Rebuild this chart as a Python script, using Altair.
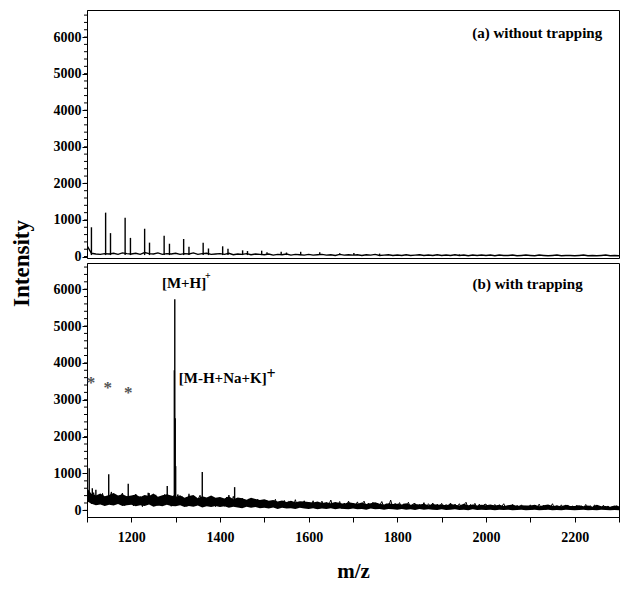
import altair as alt
import pandas as pd

FONT = "Liberation Serif"

# ---------------- (a) without trapping ----------------
MZ_A = list(range(1100, 2301, 10))
BASE_A = [
    300, 90, 70, 60, 80, 70, 90, 60, 100, 80,
    70, 90, 60, 110, 80, 70, 100, 60, 80, 70,
    90, 60, 80, 70, 100, 60, 80, 90, 60, 70,
    80, 60, 90, 50, 70, 60, 80, 50, 70, 60,
    50, 70, 40, 60, 50, 70, 40, 60, 50, 40,
    60, 40, 50, 60, 40, 50, 30, 60, 40, 50,
    40, 50, 30, 50, 40, 60, 30, 40, 50, 30,
    40, 30, 50, 30, 40, 50, 30, 40, 30, 50,
    30, 40, 30, 50, 30, 40, 20, 40, 30, 40,
    30, 40, 20, 40, 30, 30, 40, 20, 30, 40,
    30, 20, 40, 30, 20, 30, 40, 20, 30, 30,
    20, 30, 40, 20, 30, 20, 30, 40, 20, 30,
    20,
]
PEAK_A_MZ = [1110, 1142, 1153, 1186, 1198, 1230, 1241, 1274, 1286, 1318, 1330,
             1362, 1374, 1406, 1418, 1451, 1462, 1494, 1506, 1538, 1550, 1582,
             1625, 1670, 1702, 1760, 1850, 1940]
PEAK_A_INT = [800, 1200, 640, 1060, 510, 760, 380, 570, 350, 480, 270,
              380, 220, 280, 210, 170, 150, 160, 120, 130, 110, 130,
              120, 90, 100, 80, 70, 60]

# ---------------- (b) with trapping ----------------
MZ_B = list(range(1100, 2301, 10))
LOW_B = [
    250, 180, 140, 160, 120, 150, 130, 170, 120, 140,
    150, 110, 140, 120, 160, 100, 130, 110, 150, 120,
    110, 140, 90, 120, 100, 130, 80, 110, 90, 120,
    90, 110, 70, 100, 80, 60, 100, 70, 90, 60,
    70, 50, 80, 40, 70, 50, 60, 40, 70, 50,
    40, 60, 30, 50, 40, 60, 30, 50, 40, 30,
    50, 30, 40, 20, 50, 30, 40, 20, 40, 30,
    20, 40, 20, 30, 10, 40, 20, 30, 20, 10,
    30, 10, 20, 30, 10, 20, 0, 30, 10, 20,
    10, 20, 0, 20, 10, 20, 0, 10, 20, 0,
    10, 20, 0, 10, 20, 0, 10, 0, 20, 10,
    0, 10, 20, 0, 10, 0, 20, 10, 0, 10,
    0,
]
HIGH_B = [
    600, 450, 400, 460, 380, 420, 470, 400, 440, 380,
    400, 430, 360, 420, 390, 460, 370, 410, 440, 400,
    360, 410, 340, 390, 420, 330, 380, 350, 400, 340,
    360, 320, 380, 300, 350, 330, 290, 340, 310, 280,
    300, 260, 280, 240, 270, 230, 260, 220, 250, 240,
    230, 210, 240, 200, 220, 190, 230, 200, 180, 220,
    200, 180, 210, 170, 190, 220, 180, 160, 190, 170,
    180, 160, 190, 150, 170, 160, 180, 140, 170, 150,
    160, 140, 170, 150, 130, 180, 140, 160, 130, 150,
    140, 160, 130, 150, 120, 140, 160, 120, 140, 130,
    130, 150, 110, 140, 160, 120, 130, 110, 150, 120,
    120, 140, 110, 130, 100, 150, 110, 120, 100, 130,
    110,
]
MZ_N = list(range(1100, 2301, 5))
NOISE_B = [
    620, 420, 180, 480, 150, 390, 230, 460, 140, 330, 250, 500, 160, 400, 210, 350, 470, 130, 380, 260,
    330, 120, 440, 240, 380, 100, 350, 200, 470, 150, 310, 420, 130, 360, 180, 430, 220, 340, 110, 400,
    280, 430, 150, 370, 220, 110, 400, 190, 340, 130, 290, 410, 160, 320, 120, 360, 200, 300, 100, 330,
    200, 310, 110, 360, 240, 130, 380, 170, 290, 100, 330, 210, 140, 310, 90, 270, 180, 300, 110, 250,
    170, 280, 80, 250, 150, 300, 90, 230, 140, 270, 70, 240, 180, 100, 290, 80, 220, 130, 260, 70,
    220, 110, 260, 60, 200, 130, 250, 80, 210, 140, 280, 70, 190, 120, 240, 50, 200, 110, 250, 80,
    190, 110, 230, 60, 170, 250, 80, 200, 100, 220, 50, 190, 130, 240, 70, 180, 100, 280, 60, 190,
    110, 210, 50, 180, 100, 220, 60, 170, 190, 40, 160, 90, 210, 50, 180, 110, 200, 60, 170, 100,
    190, 50, 160, 90, 200, 40, 170, 100, 180, 60, 150, 220, 40, 160, 90, 190, 50, 170, 80, 150,
    170, 40, 140, 80, 160, 30, 150, 90, 180, 50, 130, 70, 160, 30, 140, 80, 150, 40, 120, 60,
    150, 30, 130, 70, 170, 40, 140, 20, 120, 80, 180, 30, 130, 60, 150, 40, 110, 140, 30, 120,
    70, 140, 30, 120, 60, 160, 20, 130, 50, 150, 30, 110, 60, 140, 20, 120, 50, 100, 30, 130,
    60,
]
PEAK_B_MZ = [1105, 1112, 1120, 1149, 1193, 1238, 1281, 1297, 1298, 1299, 1300,
             1330, 1360, 1420, 1433]
PEAK_B_INT = [1140, 600, 560, 980, 720, 480, 660, 3800, 5730, 2500, 1200,
              450, 1040, 420, 630]

Y_MAJOR = [0, 1000, 2000, 3000, 4000, 5000, 6000]
Y_MINOR = list(range(0, 6601, 200))
X_TICKS = list(range(1100, 2301, 100))

W = 532

df_a = pd.DataFrame({"mz": MZ_A, "intensity": BASE_A})
pk_a = pd.DataFrame({"mz": PEAK_A_MZ, "intensity": PEAK_A_INT})
df_b = pd.DataFrame({"mz": MZ_B, "low": LOW_B, "high": HIGH_B})
nz_b = pd.DataFrame({"mz": MZ_N, "intensity": NOISE_B})
pk_b = pd.DataFrame({"mz": PEAK_B_MZ, "intensity": PEAK_B_INT})
minor = pd.DataFrame({"v": Y_MINOR})

xscale = alt.Scale(domain=[1100, 2300], nice=False, zero=False)
yascale = alt.Scale(domain=[-40, 6740], nice=False, zero=False)
ybscale = alt.Scale(domain=[-180, 6710], nice=False, zero=False)

yaxis_top = alt.Axis(values=Y_MAJOR, format="d", tickSize=5, labelPadding=1,
                     grid=False, title="Intensity",
                     titleX=-66, titleY=253, titleAngle=270, titleAlign="center",
                     titleBaseline="middle", titleFontSize=23)
yaxis_bot = alt.Axis(values=Y_MAJOR, format="d", tickSize=5, labelPadding=1,
                     grid=False, title=None)
xaxis_bot = alt.Axis(values=X_TICKS,
                     labelExpr="datum.value % 200 === 0 && datum.value > 1100 && datum.value < 2300 ? datum.label : ''",
                     format="d", tickSize=5, labelPadding=8, labelOverlap=False, grid=False,
                     title="m/z", titleFontSize=21, titlePadding=16)


def minor_ticks(scale):
    return alt.Chart(minor).mark_rule(color="black", strokeWidth=1).encode(
        y=alt.Y("v:Q", scale=scale), x=alt.value(0), x2=alt.value(-3))


# top panel
line_a = alt.Chart(df_a).mark_line(color="black", strokeWidth=1.4, clip=True).encode(
    x=alt.X("mz:Q", scale=xscale, axis=None),
    y=alt.Y("intensity:Q", scale=yascale, axis=yaxis_top),
)
sticks_a = alt.Chart(pk_a).mark_rule(color="black", strokeWidth=1.4, clip=True).encode(
    x=alt.X("mz:Q", scale=xscale),
    y=alt.Y("intensity:Q", scale=yascale),
    y2=alt.datum(40),
)
lab_a = pd.DataFrame({"mz": [2262], "intensity": [6108], "t": ["(a) without trapping"]})
text_a = alt.Chart(lab_a).mark_text(align="right", baseline="middle", fontSize=15,
                                    fontWeight="bold", font=FONT, color="black").encode(
    x=alt.X("mz:Q", scale=xscale), y=alt.Y("intensity:Q", scale=yascale), text="t:N")

top = alt.layer(line_a, sticks_a, text_a, minor_ticks(yascale)).properties(width=W, height=248)

# bottom panel
band_b = alt.Chart(df_b).mark_area(color="black", opacity=1, clip=True).encode(
    x=alt.X("mz:Q", scale=xscale, axis=xaxis_bot),
    y=alt.Y("low:Q", scale=ybscale, axis=yaxis_bot),
    y2="high:Q",
)
noise_b = alt.Chart(nz_b).mark_line(color="black", strokeWidth=1, clip=True).encode(
    x=alt.X("mz:Q", scale=xscale),
    y=alt.Y("intensity:Q", scale=ybscale),
)
sticks_b = alt.Chart(pk_b).mark_rule(color="black", strokeWidth=1.4, clip=True).encode(
    x=alt.X("mz:Q", scale=xscale),
    y=alt.Y("intensity:Q", scale=ybscale),
    y2=alt.datum(250),
)

ANN_MZ = [2218, 1269, 1307]
ANN_Y = [6145, 6177, 3600]
ANN_T = ["(b) with trapping", "[M+H]", "[M-H+Na+K]"]
ANN_AL = ["right", "left", "left"]
ann = pd.DataFrame({"mz": ANN_MZ, "intensity": ANN_Y, "t": ANN_T, "al": ANN_AL})

text_b_r = alt.Chart(ann[ann.al == "right"]).mark_text(
    align="right", baseline="middle", fontSize=15, fontWeight="bold", font=FONT, color="black"
).encode(x=alt.X("mz:Q", scale=xscale), y=alt.Y("intensity:Q", scale=ybscale), text="t:N")
text_b_l = alt.Chart(ann[ann.al == "left"]).mark_text(
    align="left", baseline="middle", fontSize=15, fontWeight="bold", font=FONT, color="black"
).encode(x=alt.X("mz:Q", scale=xscale), y=alt.Y("intensity:Q", scale=ybscale), text="t:N")

sup1 = pd.DataFrame({"mz": [1366], "intensity": [6360], "t": ["+"]})
sup2 = pd.DataFrame({"mz": [1505], "intensity": [3700], "t": ["+"]})
text_sup1 = alt.Chart(sup1).mark_text(align="left", baseline="middle", fontSize=10,
                                      fontWeight="bold", font=FONT, color="black").encode(
    x=alt.X("mz:Q", scale=xscale), y=alt.Y("intensity:Q", scale=ybscale), text="t:N")
text_sup2 = alt.Chart(sup2).mark_text(align="left", baseline="middle", fontSize=16,
                                      fontWeight="bold", font=FONT, color="black").encode(
    x=alt.X("mz:Q", scale=xscale), y=alt.Y("intensity:Q", scale=ybscale), text="t:N")

STAR_MZ = [1109, 1147, 1193]
STAR_Y = [3568, 3432, 3296]
stars = pd.DataFrame({"mz": STAR_MZ, "intensity": STAR_Y, "t": ["*", "*", "*"]})
text_star = alt.Chart(stars).mark_text(align="center", baseline="middle", dy=4, fontSize=17,
                                       fontWeight="bold", font=FONT, color="#555555").encode(
    x=alt.X("mz:Q", scale=xscale), y=alt.Y("intensity:Q", scale=ybscale), text="t:N")

bottom = alt.layer(band_b, noise_b, sticks_b, text_b_r, text_b_l, text_sup1, text_sup2,
                   text_star, minor_ticks(ybscale)).properties(width=W, height=254)

chart = alt.vconcat(top, bottom, spacing=5, bounds="flush").properties(
    padding={"left": 1, "top": 1, "right": 0, "bottom": 0}
).configure_view(stroke="black", strokeWidth=1).configure_axis(
    labelFont=FONT, labelFontWeight="bold", labelFontSize=14, labelColor="black",
    titleFont=FONT, titleFontWeight="bold", titleColor="black",
    domainColor="black", tickColor="black", grid=False,
).configure_text(font=FONT, fontWeight="bold")

chart.save("out.html", embed_options={"renderer": "svg", "actions": False})
